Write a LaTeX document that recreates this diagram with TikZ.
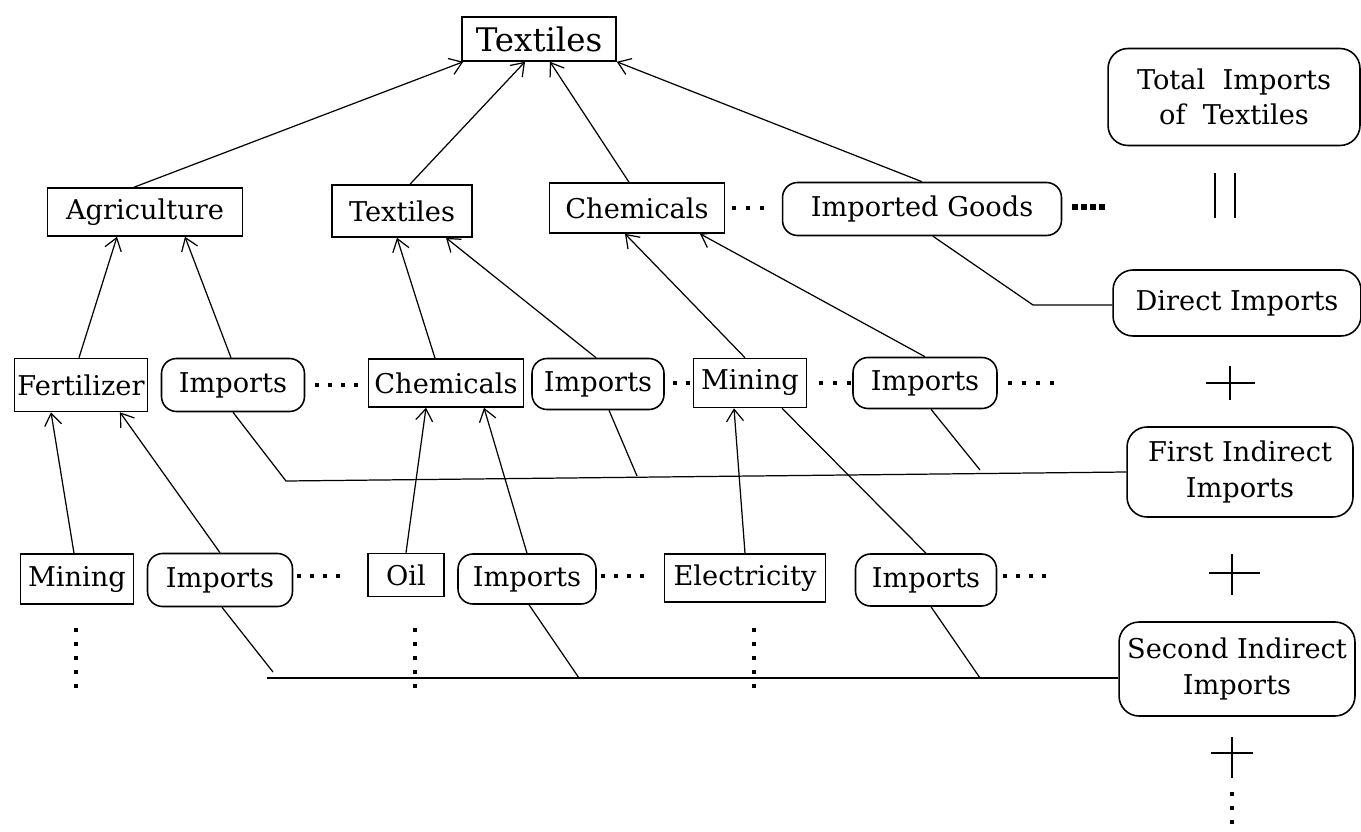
\documentclass[tikz,border=0pt]{standalone}
\usepackage{fontspec}
\setmainfont{DejaVu Serif}
\usetikzlibrary{positioning, arrows.meta, calc}
\tikzset{
	box/.style={draw, rectangle, inner sep=0pt, line width=0.9pt, align=center, font=\fontsize{15.5}{20}\selectfont},
	rbox/.style={box, rounded corners=3mm},
	arr/.style={-{Straight Barb[length=2.4mm, width=3.4mm]}, line width=0.7pt},
	lnk/.style={line width=0.7pt},
}

\begin{document}
\begin{tikzpicture}[x=0.02cm, y=-0.02cm]
	\useasboundingbox (0,0) rectangle (1361,831);
	% top
	\node (top) at (539,39) [box, minimum width=3.08cm, minimum height=0.88cm, font=\fontsize{18.5}{22}\selectfont] {Textiles};
	% second row
	\node (agri) at (145,212) [box, minimum width=3.9cm, minimum height=0.96cm] {Agriculture};
	\node (tex) at (402,211) [box, minimum width=2.8cm, minimum height=1.04cm] {Textiles};
	\node (chem) at (637,208) [box, minimum width=3.5cm, minimum height=1cm] {Chemicals};
	\node (impg) at (922,209) [rbox, minimum width=5.58cm, minimum height=1.06cm] {Imported Goods};
	% third row
	\node (fert) at (81,385) [box, minimum width=2.66cm, minimum height=1.06cm] {Fertilizer};
	\node (impA) at (233,385) [rbox, minimum width=2.86cm, minimum height=1.06cm] {Imports};
	\node (chemB) at (446,383) [box, minimum width=3.1cm, minimum height=0.96cm] {Chemicals};
	\node (impB) at (598,384) [rbox, minimum width=2.64cm, minimum height=1.02cm] {Imports};
	\node (minB) at (750,383) [box, minimum width=2.26cm, minimum height=0.98cm] {Mining};
	\node (impC) at (925,383) [rbox, minimum width=2.88cm, minimum height=1.02cm] {Imports};
	% fourth row
	\node (minC) at (77,579) [box, minimum width=2.26cm, minimum height=1cm] {Mining};
	\node (impD) at (220,580) [rbox, minimum width=2.9cm, minimum height=1.06cm] {Imports};
	\node (oil) at (406,575) [box, minimum width=1.52cm, minimum height=0.86cm] {Oil};
	\node (impE) at (527,579) [rbox, minimum width=2.76cm, minimum height=1cm] {Imports};
	\node (elec) at (745,578) [box, minimum width=3.22cm, minimum height=0.96cm] {Electricity};
	\node (impF) at (926,580) [rbox, minimum width=2.82cm, minimum height=1.04cm] {Imports};
	% right column
	\node (total) at (1234,97) [rbox, rounded corners=4mm, minimum width=5.04cm, minimum height=1.94cm] {Total~ Imports\\of~ Textiles};
	\node (direct) at (1237,303) [rbox, rounded corners=4mm, minimum width=4.96cm, minimum height=1.32cm] {Direct Imports};
	\node (first) at (1240,472) [rbox, rounded corners=4mm, minimum width=4.52cm, minimum height=1.8cm] {First Indirect\\Imports};
	\node (second) at (1237,669) [rbox, rounded corners=4mm, minimum width=4.72cm, minimum height=1.88cm] {Second Indirect\\Imports};

	% arrows into the top
	\draw[arr] ([xshift=-0.22cm]agri.north) -- ([xshift=0.04cm]top.south west);
	\draw[arr] ([xshift=0.16cm]tex.north) -- ([xshift=-0.28cm]top.south);
	\draw[arr] ([xshift=-0.16cm]chem.north) -- ([xshift=0.22cm]top.south);
	\draw[arr] (impg.north) -- (top.south east);
	% arrows into the second row
	\draw[arr] ([xshift=-0.04cm]fert.north) -- ([xshift=-0.56cm]agri.south);
	\draw[arr] ([xshift=-0.04cm]impA.north) -- ([xshift=0.8cm]agri.south);
	\draw[arr] ([xshift=-0.22cm]chemB.north) -- ([xshift=-0.1cm]tex.south);
	\draw[arr] ([xshift=-0.04cm]impB.north) -- ([xshift=0.88cm]tex.south);
	\draw[arr] ([xshift=-0.1cm]minB.north) -- ([xshift=-0.24cm]chem.south);
	\draw[arr] (impC.north) -- ([xshift=1.26cm]chem.south);
	% arrows into the third row
	\draw[arr] ([xshift=-0.06cm]minC.north) -- ([xshift=-0.6cm]fert.south);
	\draw[arr] (impD.north) -- ([xshift=0.78cm]fert.south);
	\draw[arr] (oil.north) -- ([xshift=-0.4cm]chemB.south);
	\draw[arr] (impE.north) -- ([xshift=0.76cm]chemB.south);
	\draw[arr] (elec.north) -- ([xshift=-0.32cm]minB.south);
	\draw[lnk] ([xshift=0.64cm]minB.south) -- (impF.north);

	% direct imports
	\coordinate (dbend) at (1033,305);
	\draw[lnk] ([xshift=0.22cm]impg.south) -- (dbend) -- (dbend -| direct.west);
	% first indirect imports
	\coordinate (fa) at (286,481);
	\coordinate (fb) at (637,476);
	\coordinate (fc) at (980,470);
	\draw[lnk] (impA.south) -- (fa) -- (first.west);
	\draw[lnk] ([xshift=0.22cm]impB.south) -- (fb);
	\draw[lnk] ([xshift=0.12cm]impC.south) -- (fc);
	% second indirect imports
	\coordinate (sa) at (267,678);
	\coordinate (sb) at (579,678);
	\coordinate (sc) at (980,678);
	\draw[lnk] (sa) -- (sa -| second.west);
	\draw[lnk] ([xshift=0.04cm]impD.south) -- (273,672);
	\draw[lnk] ([xshift=0.04cm]impE.south) -- (sb);
	\draw[lnk] ([xshift=0.1cm]impF.south) -- (sc);

	% dots
	\foreach \x in {734,748,762} \fill (\x-2,206) rectangle ++(4,4);
	\foreach \x in {1075,1084,1093,1102} \fill (\x-3,204) rectangle ++(6,6);
	\foreach \x in {317,330,343,356} \fill (\x-2,383) rectangle ++(4,4);
	\foreach \x in {675,688} \fill (\x-2,381) rectangle ++(4,4);
	\foreach \x in {821,835,849} \fill (\x-2,381) rectangle ++(4,4);
	\foreach \x in {1010,1024,1038,1052} \fill (\x-2,381) rectangle ++(4,4);
	\foreach \x in {299,312,325,338} \fill (\x-2,574) rectangle ++(4,4);
	\foreach \x in {603,616,629,642} \fill (\x-2,574) rectangle ++(4,4);
	\foreach \x in {1005,1018,1031,1044} \fill (\x-2,574) rectangle ++(4,4);
	\foreach \y in {630,644,658,672,686} {
		\fill (74,\y-2) rectangle ++(4,4);
		\fill (413,\y-2) rectangle ++(4,4);
		\fill (752,\y-2) rectangle ++(4,4);
	}
	\foreach \y in {794,808,822} \fill (1230,\y-2) rectangle ++(4,4);

	% equals and plus signs
	\draw[lnk] (1215,173) -- (1215,218);
	\draw[lnk] (1235,173) -- (1235,218);
	\draw[lnk] (1206,383) -- (1255,383);
	\draw[lnk] (1230,366) -- (1230,400);
	\draw[lnk] (1209,573) -- (1260,573);
	\draw[lnk] (1232,554) -- (1232,595);
	\draw[lnk] (1211,753) -- (1253,753);
	\draw[lnk] (1232,737) -- (1232,778);
\end{tikzpicture}
\end{document}
